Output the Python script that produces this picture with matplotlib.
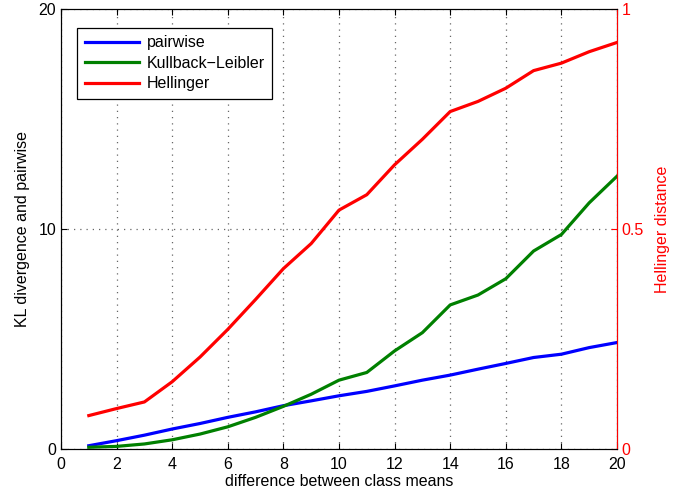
import matplotlib
matplotlib.use("Agg")
import matplotlib.pyplot as plt

x = list(range(1, 21))
pairwise = [0.15, 0.38, 0.63, 0.91, 1.16, 1.44, 1.69, 1.97, 2.19, 2.42,
            2.62, 2.87, 3.13, 3.36, 3.63, 3.89, 4.16, 4.31, 4.61, 4.84]
kl = [0.08, 0.12, 0.23, 0.42, 0.68, 1.01, 1.44, 1.94, 2.49, 3.13,
      3.48, 4.46, 5.29, 6.55, 7.00, 7.74, 9.00, 9.75, 11.19, 12.40]
hellinger = [0.076, 0.092, 0.107, 0.153, 0.209, 0.272, 0.340, 0.410, 0.467, 0.543,
             0.578, 0.646, 0.704, 0.767, 0.790, 0.820, 0.860, 0.877, 0.903, 0.924]

plt.rcParams['font.family'] = ['Liberation Sans', 'DejaVu Sans']
plt.rcParams['font.size'] = 11.5

fig = plt.figure(figsize=(6.81, 4.93), dpi=100)
ax = fig.add_axes([0.0896, 0.0892, 0.8164, 0.8925])
ax2 = ax.twinx()

l1, = ax.plot(x, pairwise, color='#0000ff', lw=2.3, label='pairwise')
l2, = ax.plot(x, kl, color='#008000', lw=2.3, label='Kullback\u2212Leibler')
l3, = ax2.plot(x, hellinger, color='#ff0000', lw=2.3, label='Hellinger')

ax.set_xlim(0, 20)
ax.set_ylim(0, 20)
ax2.set_ylim(0, 1)
ax.set_xticks(range(0, 21, 2))
ax.set_yticks([0, 10, 20])
ax2.set_yticks([0, 0.5, 1])
ax2.set_yticklabels(['0', '0.5', '1'])

ax.grid(True, linestyle=(0, (1, 4)), color='#666666', linewidth=0.9)
ax.tick_params(axis='x', pad=6)
ax.tick_params(direction='in', length=4, top=True, right=False, labelsize=11.5)
ax2.tick_params(direction='in', length=4, colors='#ff0000', labelsize=11.5)
ax2.spines['right'].set_color('#ff0000')
for s in ['left', 'bottom', 'top']:
    ax.spines[s].set_linewidth(0.8)

ax.set_xlabel('difference between class means', labelpad=1)
ax.set_ylabel('KL divergence and pairwise', labelpad=6)
ax2.set_ylabel('Hellinger distance', color='#ff0000', labelpad=8)

leg = ax.legend(handles=[l1, l2, l3], loc='upper left', bbox_to_anchor=(0.015, 0.975),
                frameon=True, fancybox=False, edgecolor='black', framealpha=1,
                handlelength=3.4, handletextpad=0.5, borderpad=0.45, labelspacing=0.35,
                fontsize=11.5)
leg.get_frame().set_linewidth(0.9)

fig.savefig('out.png', dpi=100)
